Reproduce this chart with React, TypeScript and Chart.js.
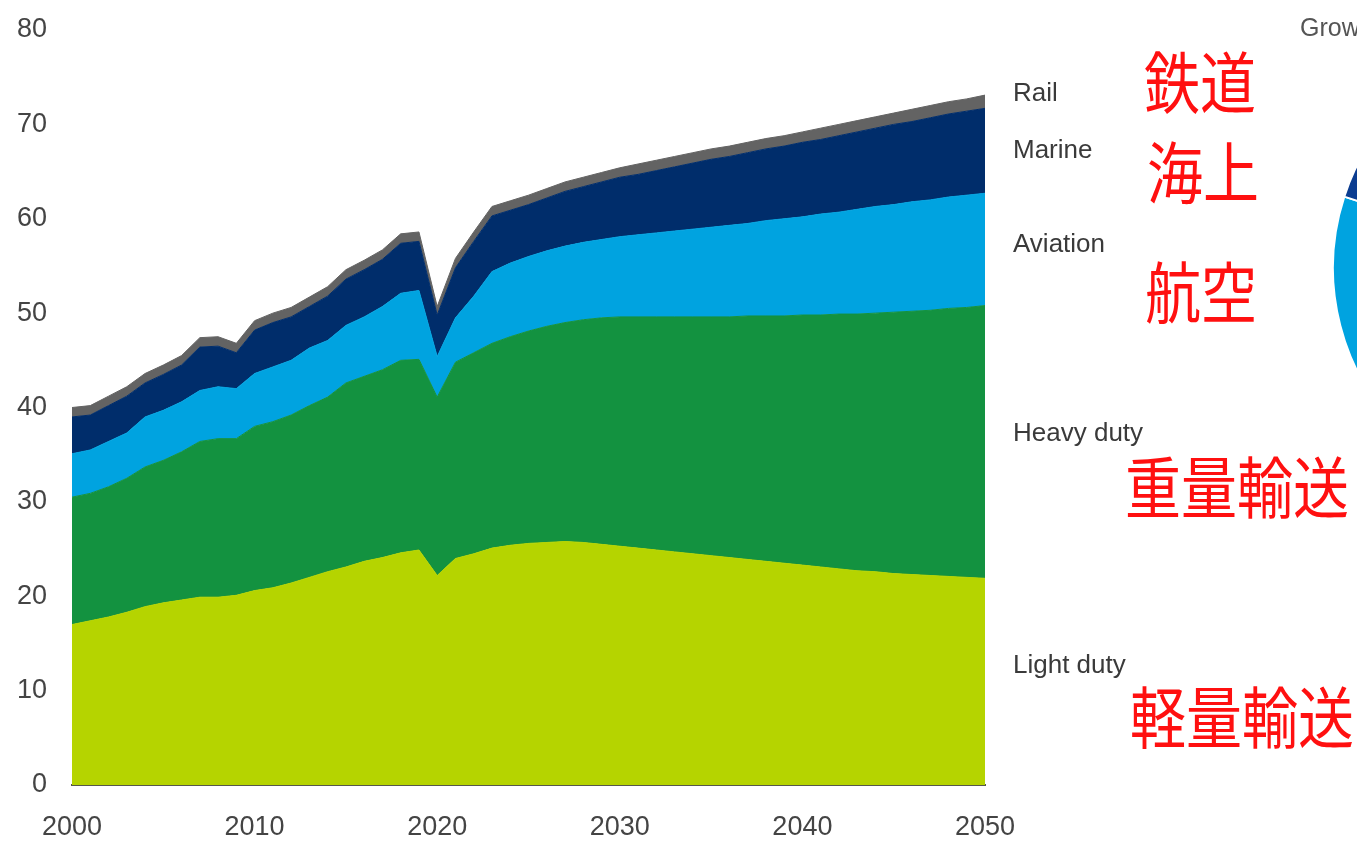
import { useEffect, useRef } from "react";
import { Chart, registerables } from "chart.js";

Chart.register(...registerables);

// Transport energy demand by mode, stacked (2000–2050)
const years = [
  2000, 2001, 2002, 2003, 2004, 2005, 2006, 2007, 2008, 2009,
  2010, 2011, 2012, 2013, 2014, 2015, 2016, 2017, 2018, 2019,
  2020, 2021, 2022, 2023, 2024, 2025, 2026, 2027, 2028, 2029,
  2030, 2031, 2032, 2033, 2034, 2035, 2036, 2037, 2038, 2039,
  2040, 2041, 2042, 2043, 2044, 2045, 2046, 2047, 2048, 2049, 2050,
];

const lightDuty = [
  17.0, 17.4, 17.8, 18.3, 18.9, 19.3, 19.6, 19.9, 19.9, 20.1,
  20.6, 20.9, 21.4, 22.0, 22.6, 23.1, 23.7, 24.1, 24.6, 24.9,
  22.2, 24.0, 24.5, 25.1, 25.4, 25.6, 25.7, 25.8, 25.7, 25.5,
  25.3, 25.1, 24.9, 24.7, 24.5, 24.3, 24.1, 23.9, 23.7, 23.5,
  23.3, 23.1, 22.9, 22.7, 22.6, 22.4, 22.3, 22.2, 22.1, 22.0, 21.9,
];

const heavyDuty = [
  13.5, 13.5, 13.8, 14.2, 14.8, 15.1, 15.7, 16.5, 16.8, 16.6,
  17.4, 17.6, 17.8, 18.2, 18.5, 19.5, 19.6, 19.9, 20.4, 20.2,
  18.9, 20.8, 21.3, 21.7, 22.1, 22.5, 22.9, 23.2, 23.6, 24.0,
  24.3, 24.5, 24.7, 24.9, 25.1, 25.3, 25.5, 25.8, 26.0, 26.2,
  26.5, 26.7, 27.0, 27.2, 27.4, 27.7, 27.9, 28.1, 28.4, 28.6, 28.9,
];

const aviation = [
  4.6, 4.6, 4.8, 4.8, 5.3, 5.3, 5.3, 5.4, 5.5, 5.3,
  5.6, 5.8, 5.8, 6.1, 6.0, 6.1, 6.3, 6.7, 7.1, 7.3,
  4.3, 4.7, 6.0, 7.6, 7.8, 7.9, 8.0, 8.1, 8.2, 8.3,
  8.5, 8.7, 8.9, 9.1, 9.3, 9.5, 9.7, 9.8, 10.1, 10.3,
  10.4, 10.7, 10.8, 11.1, 11.3, 11.4, 11.6, 11.7, 11.8, 11.9, 11.9,
];

const marine = [
  3.9, 3.7, 3.8, 3.9, 3.6, 3.8, 3.9, 4.6, 4.3, 3.8,
  4.6, 4.7, 4.6, 4.4, 4.7, 4.9, 5.0, 5.0, 5.3, 5.2,
  4.4, 5.3, 5.8, 5.9, 5.6, 5.5, 5.6, 5.8, 5.9, 6.1,
  6.3, 6.4, 6.6, 6.8, 7.0, 7.2, 7.3, 7.5, 7.6, 7.7,
  7.9, 7.9, 8.1, 8.2, 8.3, 8.5, 8.5, 8.7, 8.8, 8.9, 9.0,
];

const rail = [
  1.0, 1.0, 1.0, 1.0, 1.0, 1.0, 1.0, 1.0, 1.0, 1.0,
  1.0, 1.0, 1.0, 1.0, 1.0, 1.0, 1.0, 1.0, 1.0, 1.0,
  0.9, 1.0, 1.0, 1.0, 1.0, 1.0, 1.0, 1.0, 1.0, 1.0,
  1.0, 1.1, 1.1, 1.1, 1.1, 1.1, 1.1, 1.1, 1.1, 1.1,
  1.1, 1.2, 1.2, 1.2, 1.2, 1.2, 1.3, 1.3, 1.3, 1.3, 1.4,
];

const seriesNames = ["Light duty", "Heavy duty", "Aviation", "Marine", "Rail"];
const seriesColors = ["#b5d400", "#139240", "#00a3e0", "#002d6b", "#636363"];

const yTicks = [0, 10, 20, 30, 40, 50, 60, 70, 80];
const xTicks = [2000, 2010, 2020, 2030, 2040, 2050];

// Growth share pie (only its left rim sits inside the page)
const pieLabels = ["Light duty", "Heavy duty", "Aviation", "Marine", "Rail"];
const pieShares = [30, 32, 18, 16, 4];
const pieColors = ["#b5d400", "#139240", "#00a3e0", "#0b3d91", "#636363"];

const W = 1357;
const H = 841;
const PLOT_LEFT = 72;
const PLOT_RIGHT = 985;
const PLOT_TOP = 30;
const PLOT_BOTTOM = 785;
const tickFont = { family: '"Liberation Sans", Arial, sans-serif', size: 27 };

const modeLabels = [
  { text: "Rail", left: 1013, top: 79 },
  { text: "Marine", left: 1013, top: 136 },
  { text: "Aviation", left: 1013, top: 230 },
  { text: "Heavy duty", left: 1013, top: 419 },
  { text: "Light duty", left: 1013, top: 651 },
];

const jpLabels = [
  { text: "鉄道", left: 1144, top: 46 },
  { text: "海上", left: 1147, top: 136 },
  { text: "航空", left: 1145, top: 256 },
  { text: "重量輸送", left: 1125, top: 451 },
  { text: "軽量輸送", left: 1130, top: 681 },
];

export default function App() {
  const mainRef = useRef<HTMLCanvasElement | null>(null);
  const pieRef = useRef<HTMLCanvasElement | null>(null);

  useEffect(() => {
    if (!mainRef.current || !pieRef.current) return;
    const series = [lightDuty, heavyDuty, aviation, marine, rail];

    const main = new Chart(mainRef.current, {
      type: "line",
      data: {
        datasets: series.map((vals, i) => ({
          label: seriesNames[i],
          data: vals.map((v, j) => ({ x: years[j], y: v })),
          backgroundColor: seriesColors[i],
          borderColor: seriesColors[i],
          borderWidth: 1,
          pointRadius: 0,
          tension: 0,
          fill: i === 0 ? "origin" : "-1",
        })),
      },
      options: {
        responsive: false,
        animation: false,
        layout: {
          padding: { left: 0, right: W - PLOT_RIGHT, top: PLOT_TOP, bottom: 0 },
        },
        plugins: { legend: { display: false }, tooltip: { enabled: false } },
        scales: {
          x: {
            type: "linear",
            min: 2000,
            max: 2050,
            afterFit: (s: any) => {
              s.height = H - PLOT_BOTTOM;
              s.paddingLeft = 0;
              s.paddingRight = 0;
            },
            afterBuildTicks: (s: any) => {
              s.ticks = xTicks.map((v) => ({ value: v }));
            },
            ticks: {
              padding: 26,
              font: tickFont,
              color: "#444",
              maxRotation: 0,
              autoSkip: false,
              callback: (v: any) => String(v),
            },
            grid: { display: false, drawTicks: false },
            border: { display: true, color: "#55574a", width: 2 },
          },
          y: {
            stacked: true,
            min: 0,
            max: 80,
            afterFit: (s: any) => {
              s.width = PLOT_LEFT;
              s.paddingTop = 0;
              s.paddingBottom = 0;
            },
            afterBuildTicks: (s: any) => {
              s.ticks = yTicks.map((v) => ({ value: v }));
            },
            ticks: {
              padding: 25,
              font: tickFont,
              color: "#444",
              callback: (v: any) => String(v),
            },
            grid: { display: false, drawTicks: false },
            border: { display: false },
          },
        },
      },
    });

    const pie = new Chart(pieRef.current, {
      type: "pie",
      data: {
        labels: pieLabels,
        datasets: [
          {
            data: pieShares,
            backgroundColor: pieColors,
            borderColor: "#ffffff",
            borderWidth: 2,
            radius: 231,
          },
        ],
      },
      options: {
        responsive: false,
        animation: false,
        layout: { padding: 0 },
        plugins: { legend: { display: false }, tooltip: { enabled: false } },
      },
    });

    return () => {
      main.destroy();
      pie.destroy();
    };
  }, []);

  return (
    <div
      style={{
        position: "fixed",
        left: 0,
        top: 0,
        width: W,
        height: H,
        overflow: "hidden",
        background: "#ffffff",
        fontFamily: '"Liberation Sans", Arial, sans-serif',
      }}
    >
      <canvas
        ref={mainRef}
        width={W}
        height={H}
        style={{ position: "absolute", left: 0, top: 0 }}
      />
      <canvas
        ref={pieRef}
        width={470}
        height={470}
        style={{ position: "absolute", left: 1329, top: 33 }}
      />
      <div
        style={{
          position: "absolute",
          left: 1300,
          top: 15,
          fontSize: 25,
          lineHeight: 1,
          color: "#555",
          whiteSpace: "nowrap",
        }}
      >
        Growth
      </div>
      {modeLabels.map((l) => (
        <div
          key={l.text}
          style={{
            position: "absolute",
            left: l.left,
            top: l.top,
            fontSize: 26,
            lineHeight: 1,
            color: "#3a3a3a",
            whiteSpace: "nowrap",
          }}
        >
          {l.text}
        </div>
      ))}
      {jpLabels.map((l) => (
        <div
          key={l.text}
          style={{
            position: "absolute",
            left: l.left,
            top: l.top,
            fontSize: 56,
            lineHeight: 1,
            color: "#ff1010",
            whiteSpace: "nowrap",
            fontFamily: '"Noto Sans CJK JP", sans-serif',
            transform: "scaleY(1.2)",
            transformOrigin: "0 0",
          }}
        >
          {l.text}
        </div>
      ))}
    </div>
  );
}
